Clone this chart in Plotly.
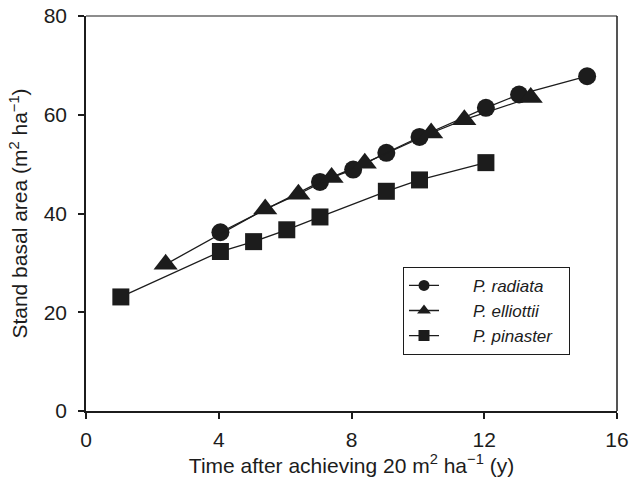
import plotly.graph_objects as go

radiata_x = [4.05, 7.05, 8.05, 9.05, 10.05, 12.05, 13.05, 15.1]
radiata_y = [36.2, 46.4, 48.9, 52.3, 55.5, 61.4, 64.1, 67.8]
elliottii_x = [2.4, 5.4, 6.4, 7.4, 8.4, 10.4, 11.4, 13.4]
elliottii_y = [29.7, 40.9, 43.9, 47.3, 50.2, 56.3, 59.0, 63.5]
pinaster_x = [1.05, 4.05, 5.05, 6.05, 7.05, 9.05, 10.05, 12.05]
pinaster_y = [23.1, 32.3, 34.3, 36.7, 39.3, 44.5, 46.8, 50.3]

x_ticks = [0, 4, 8, 12, 16]
y_ticks = [0, 20, 40, 60, 80]

ink = "#1c1c1c"
font = "Liberation Sans, Arial"
pad_l = "\u2003\u2002\u2009"
pad_r = "\u2002\u2009"
fig = go.Figure()
series = [
    ("P. radiata", radiata_x, radiata_y, "circle", 18, 11),
    ("P. elliottii", elliottii_x, elliottii_y, "triangle-up", 21, 12),
    ("P. pinaster", pinaster_x, pinaster_y, "square", 17, 11),
]
for name, xs, ys, sym, sz, lsz in series:
    fig.add_trace(go.Scatter(
        x=xs, y=ys, name=name, mode="lines+markers", showlegend=False,
        line=dict(color=ink, width=1.3),
        marker=dict(symbol=sym, size=sz, color=ink, line=dict(width=0)),
    ))
for name, xs, ys, sym, sz, lsz in series:
    # legend-only entry with smaller symbol, as in the reference legend
    fig.add_trace(go.Scatter(
        x=[None], y=[None], name=pad_l + "<i>" + name + "</i>" + pad_r,
        mode="lines+markers", showlegend=True,
        line=dict(color=ink, width=1.3),
        marker=dict(symbol=sym, size=lsz, color=ink, line=dict(width=0)),
    ))

axis_common = dict(
    showgrid=False, zeroline=False, showline=True, linecolor=ink, linewidth=1.5,
    ticks="outside", ticklen=6, tickcolor=ink, tickwidth=1.5,
    tickfont=dict(family=font, size=21, color=ink),
    mirror=False, automargin=False,
)
fig.update_xaxes(range=[0, 16], tickvals=x_ticks, ticklabelstandoff=3, **axis_common,
                 title=dict(text="Time after achieving 20 m<sup>2</sup> ha<sup>\u22121</sup> (y)",
                            font=dict(family=font, size=21, color=ink), standoff=8))
fig.update_yaxes(range=[0, 80], tickvals=y_ticks, ticklabelstandoff=7, **axis_common,
                 title=dict(text="Stand basal area (m<sup>2</sup> ha<sup>\u22121</sup>)",
                            font=dict(family=font, size=21, color=ink), standoff=10))

# top and right frame lines
fig.add_shape(type="line", xref="paper", yref="paper", x0=0, x1=1, y0=1, y1=1,
              line=dict(color=ink, width=1.2))
fig.add_shape(type="line", xref="paper", yref="paper", x0=1, x1=1, y0=0, y1=1,
              line=dict(color=ink, width=1.5))

fig.update_layout(
    width=629, height=484,
    margin=dict(l=86, r=12, t=16, b=73, autoexpand=False),
    plot_bgcolor="white", paper_bgcolor="white",
    showlegend=True,
    legend=dict(x=0.597, y=0.365, xanchor="left", yanchor="top",
                bordercolor=ink, borderwidth=1, bgcolor="white",
                font=dict(family=font, size=17, color=ink),
                tracegroupgap=0, itemsizing="trace"),
)
fig.write_html("out.html", config={"displayModeBar": False},
               post_script="document.body.style.margin='0';document.body.style.padding='0';")
